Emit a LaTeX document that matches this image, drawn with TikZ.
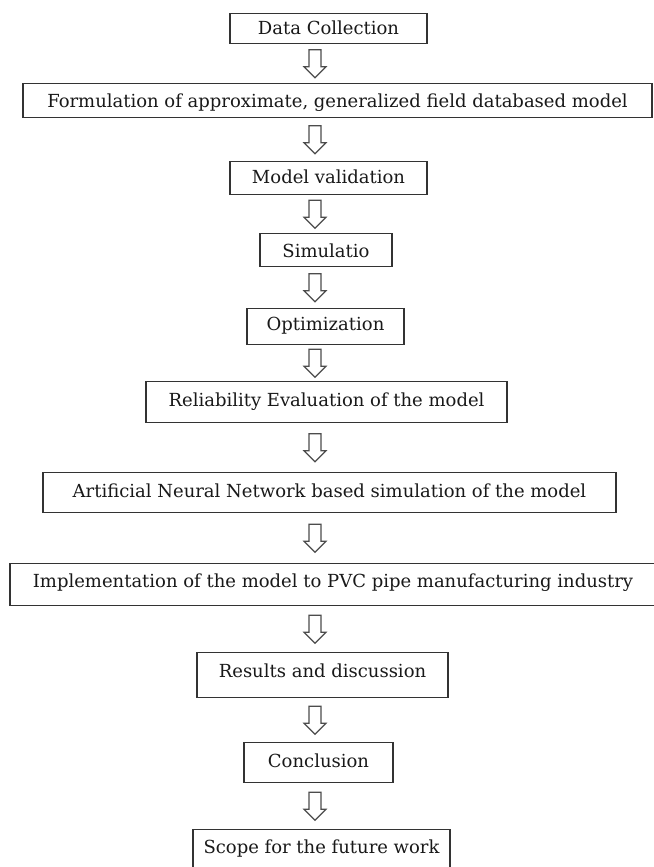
\documentclass[tikz,border=0pt]{standalone}
\usepackage{fontspec}
\setmainfont{DejaVu Serif}
\usetikzlibrary{calc}
\tikzset{
  flowbox/.style={draw=black!80, line width=1.4bp, fill=white, inner sep=0pt,
    anchor=north, font=\fontsize{18bp}{22bp}\selectfont, text=black!90},
  blockarrow/.style={draw=black!70, line width=1.2bp, fill=white, line join=miter},
}
\newcommand\flowarrow[2]{%
  \coordinate (m) at ($(#1.south -| axis)!0.5!(#2.north -| axis)$);
  \draw[blockarrow] ($(m)+(-6,-14)$) -- ($(m)+(-6,3)$) -- ($(m)+(-11,3)$)
    -- ($(m)+(0,14)$) -- ($(m)+(11,3)$) -- ($(m)+(6,3)$) -- ($(m)+(6,-14)$) -- cycle;}
\begin{document}
\begin{tikzpicture}[x=1bp, y=-1bp]
  \useasboundingbox (0,0) rectangle (654,867);
  \clip (0,0) rectangle (654,867);
  \fill[white] (0,0) rectangle (654,867);
  \coordinate (axis) at (315,0);
  \node[flowbox, minimum width=197bp, text height=20.5bp, text depth=9.5bp] (dc) at (328.5,13) {Data Collection};
  \node[flowbox, minimum width=629bp, text height=23.5bp, text depth=10.5bp] (form) at (337.5,83) {Formulation of approximate, generalized field databased model};
  \node[flowbox, minimum width=197bp, text height=22bp, text depth=11bp] (mv) at (328.5,161) {Model validation};
  \node[flowbox, minimum width=132bp, text height=24bp, text depth=9bp] (sim) at (326,233) {Simulatio};
  \node[flowbox, minimum width=157bp, text height=22bp, text depth=14bp] (opt) at (325.5,308) {Optimization};
  \node[flowbox, minimum width=361bp, text height=25bp, text depth=16bp] (rel) at (326.5,381) {Reliability Evaluation of the model};
  \node[flowbox, minimum width=573bp, text height=25bp, text depth=15bp] (ann) at (329.5,472) {Artificial Neural Network based simulation of the model};
  \node[flowbox, minimum width=646bp, text height=23.5bp, text depth=18.5bp] (impl) at (333,563) {Implementation of the model to PVC pipe manufacturing industry};
  \node[flowbox, minimum width=251bp, text height=24.5bp, text depth=20.5bp] (res) at (322.5,652) {Results and discussion};
  \node[flowbox, minimum width=149bp, text height=24.5bp, text depth=15.5bp] (conc) at (318.5,742) {Conclusion};
  \node[flowbox, minimum width=257bp, text height=23.5bp, text depth=16.5bp] (scope) at (321.5,829) {Scope for the future work};
  \flowarrow{dc}{form}
  \flowarrow{form}{mv}
  \flowarrow{mv}{sim}
  \flowarrow{sim}{opt}
  \flowarrow{opt}{rel}
  \flowarrow{rel}{ann}
  \flowarrow{ann}{impl}
  \flowarrow{impl}{res}
  \flowarrow{res}{conc}
  \flowarrow{conc}{scope}
\end{tikzpicture}
\end{document}
